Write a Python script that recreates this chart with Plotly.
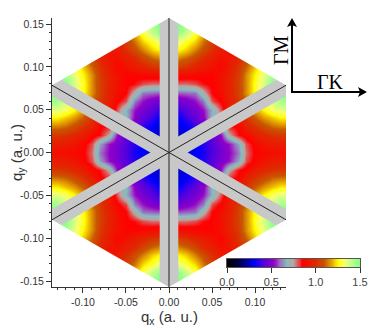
import plotly.graph_objects as go
import numpy as np

qx_half = [0, .01, .02, .03, .04, .05, .06, .07, .08, .09, .10, .11, .12, .13, .14]
qy_half = [0, .01, .02, .03, .04, .05, .06, .07, .08, .09, .10, .11, .12, .13, .14, .15, .16]
z_quadrant = [
    [.20, .22, .27, .30, .33, .40, .47, .52, .60, .78, .86, .88, .90, .90, .90],
    [.22, .24, .27, .31, .35, .41, .48, .53, .64, .80, .87, .93, .95, .96, .96],
    [.25, .26, .28, .33, .38, .44, .53, .74, .84, .88, .96, .99, 1.02, 1.03, 1.03],
    [.27, .27, .30, .36, .45, .55, .68, .82, .86, .97, 1.02, 1.07, 1.11, 1.13, 1.13],
    [.28, .31, .37, .43, .50, .68, .75, .85, .96, 1.02, 1.10, 1.16, 1.20, 1.24, 1.24],
    [.33, .37, .42, .47, .53, .66, .80, .95, 1.00, 1.08, 1.17, 1.25, 1.31, 1.35, 1.35],
    [.42, .45, .48, .53, .60, .80, .86, .96, 1.03, 1.12, 1.23, 1.31, 1.38, 1.44, 1.45],
    [.58, .58, .59, .60, .72, .85, .90, .97, 1.05, 1.15, 1.26, 1.36, 1.46, 1.50, 1.50],
    [.78, .78, .78, .80, .84, .86, .91, .98, 1.05, 1.15, 1.27, 1.37, 1.48, 1.50, 1.50],
    [.90, .90, .89, .88, .87, .86, .91, .97, 1.04, 1.15, 1.25, 1.35, 1.44, 1.50, 1.50],
    [1.05, 1.04, 1.02, .98, .95, .91, .87, .95, 1.02, 1.11, 1.21, 1.30, 1.36, 1.41, 1.41],
    [1.15, 1.14, 1.11, 1.06, 1.00, .96, .91, .93, .99, 1.06, 1.14, 1.22, 1.28, 1.31, 1.31],
    [1.26, 1.25, 1.21, 1.14, 1.08, 1.01, .95, .90, .95, 1.00, 1.07, 1.13, 1.18, 1.20, 1.20],
    [1.36, 1.34, 1.28, 1.22, 1.13, 1.05, .98, .92, .88, .96, 1.00, 1.04, 1.07, 1.09, 1.09],
    [1.48, 1.46, 1.39, 1.29, 1.19, 1.09, 1.00, .93, .89, .87, .90, .95, 1.00, 1.00, 1.00],
    [1.50, 1.50, 1.43, 1.31, 1.21, 1.11, 1.01, .94, .90, .85, .90, .95, .95, .95, .95],
    [1.50, 1.50, 1.44, 1.32, 1.22, 1.12, 1.02, .95, .90, .85, .85, .85, .85, .85, .85],
]
colorscale_stops = [0, .1, .31, .4, .52, .6, .67, .75, .85, 1.0, 1.1, 1.2, 1.25, 1.32, 1.42, 1.5]
colorscale_colors = ["#000000", "#000030", "#0000ff", "#5000e0", "#9000c8", "#a070c0", "#80c0c0",
                     "#c0a0a0", "#ff0000", "#e02800", "#c85800", "#f0c000", "#ffff00", "#f8ff70", "#b0ff90", "#80ff80"]
x_ticks = [-.10, -.05, 0, .05, .10]
x_labels = ["-0.10", "-0.05", "0.00", "0.05", "0.10"]
y_ticks = [-.15, -.10, -.05, 0, .05, .10, .15]
y_labels = ["-0.15", "-0.10", "-0.05", "0.00", "0.05", "0.10", "0.15"]
cbar_ticks = [0, .5, 1, 1.5]
cbar_labels = ["0.0", "0.5", "1.0", "1.5"]

hex_radius = .157
band_half = .0108
band_angles = [30, 90, 150]

W, H = 374, 332
L, R, T, B = 52, 286, 18, 287
px = lambda v: v / W
py = lambda v: 1 - v / H

q = np.array(z_quadrant)
z = np.hstack([q[:, :0:-1], q])
z = np.vstack([z[:0:-1], z])
xs = [-v for v in qx_half[:0:-1]] + qx_half
ys = [-v for v in qy_half[:0:-1]] + qy_half
cs = [[s / 1.5, c] for s, c in zip(colorscale_stops, colorscale_colors)]

fig = go.Figure()
fig.add_trace(go.Heatmap(x=xs, y=ys, z=z, zmin=0, zmax=1.5, zsmooth="best", colorscale=cs,
                         hoverinfo="skip", showscale=False))

far = .25
for a in band_angles:
    t = np.radians(a)
    d = np.array([np.cos(t), np.sin(t)])
    n = np.array([-d[1], d[0]]) * band_half
    corners = [far * d + n, far * d - n, -far * d - n, -far * d + n, far * d + n]
    fig.add_trace(go.Scatter(x=[c[0] for c in corners], y=[c[1] for c in corners], mode="lines",
                             fill="toself", fillcolor="#c8c8c8", line=dict(width=0),
                             hoverinfo="skip", showlegend=False))

hx = hex_radius * np.cos(np.radians(30))
for sx in (-1, 1):
    for sy in (-1, 1):
        fig.add_trace(go.Scatter(x=[0, sx * .2, sx * .2, 0],
                                 y=[sy * hex_radius, sy * (hex_radius - .2 * np.tan(np.radians(30))), sy * .3, sy * .3],
                                 mode="lines", fill="toself", fillcolor="white", line=dict(width=0),
                                 hoverinfo="skip", showlegend=False))

for a in band_angles:
    t = np.radians(a)
    fig.add_trace(go.Scatter(x=[hex_radius * np.cos(t), -hex_radius * np.cos(t)],
                             y=[hex_radius * np.sin(t), -hex_radius * np.sin(t)], mode="lines",
                             line=dict(color="#222", width=1), hoverinfo="skip", showlegend=False))

# colour bar as its own small heatmap on its own axes
bar_values = list(np.arange(0, 1.51, .01))
fig.add_trace(go.Heatmap(x=bar_values, y=[0, 1], z=[bar_values, bar_values], zmin=0, zmax=1.5, zsmooth="best",
                         colorscale=cs, hoverinfo="skip", showscale=False, xaxis="x2", yaxis="y2"))

axis_common = dict(showgrid=False, zeroline=False, showline=True, linecolor="#333", linewidth=1,
                   ticks="outside", ticklen=5, tickcolor="#333", mirror=False,
                   tickfont=dict(family="Liberation Sans", size=10.5, color="#333"),
                   minor=dict(dtick=.01, ticks="outside", ticklen=2, tickcolor="#333", showgrid=False))
title_font = dict(family="Liberation Sans", size=15, color="#333")
serif = dict(family="Liberation Serif", size=20, color="black")
paper = dict(xref="paper", yref="paper", showarrow=False, xanchor="center", yanchor="middle")

fig.update_layout(
    width=W, height=H, margin=dict(l=0, r=0, t=0, b=0, autoexpand=False),
    paper_bgcolor="white", plot_bgcolor="white", showlegend=False,
    xaxis=dict(domain=[px(L), px(R)], range=[-hx, hx], tickvals=x_ticks, ticktext=x_labels, **axis_common),
    yaxis=dict(domain=[py(B), py(T)], range=[-hex_radius, hex_radius], tickvals=y_ticks, ticktext=y_labels, **axis_common),
    xaxis2=dict(domain=[px(227), px(360)], range=[0, 1.5], anchor="y2", tickvals=cbar_ticks, ticktext=cbar_labels,
                showline=True, mirror=True, linecolor="#555", ticks="outside", ticklen=5, tickcolor="#333",
                showgrid=False, zeroline=False, tickfont=dict(family="Liberation Sans", size=11, color="#444")),
    yaxis2=dict(domain=[py(267), py(259)], range=[0, 1], anchor="x2", showticklabels=False, ticks="",
                showline=True, mirror=True, linecolor="#555", showgrid=False, zeroline=False),
    annotations=[
        dict(x=px(169), y=py(317), text="q<sub>x</sub> (a. u.)", font=title_font, **paper),
        dict(x=px(17), y=py(153), text="q<sub>y</sub> (a. u.)", font=title_font, textangle=-90, **paper),
        dict(x=px(330), y=py(82), text="ΓK", font=serif, **paper),
        dict(x=px(281), y=py(50), text="ΓM", font=serif, textangle=-90, **paper),
    ],
    shapes=[
        dict(type="line", xref="paper", yref="paper", x0=px(292), y0=py(92), x1=px(292), y1=py(24),
             line=dict(color="black", width=2)),
        dict(type="line", xref="paper", yref="paper", x0=px(291), y0=py(92), x1=px(360), y1=py(92),
             line=dict(color="black", width=2)),
        dict(type="path", xref="paper", yref="paper", fillcolor="black", line=dict(width=0),
             path=f"M {px(292)} {py(18)} L {px(297)} {py(27)} L {px(292)} {py(25)} L {px(287)} {py(27)} Z"),
        dict(type="path", xref="paper", yref="paper", fillcolor="black", line=dict(width=0),
             path=f"M {px(367)} {py(92)} L {px(358)} {py(87)} L {px(360)} {py(92)} L {px(358)} {py(97)} Z"),
    ],
)
fig.write_html("out.html", post_script="document.body.style.margin='0';", config=dict(displayModeBar=False))
